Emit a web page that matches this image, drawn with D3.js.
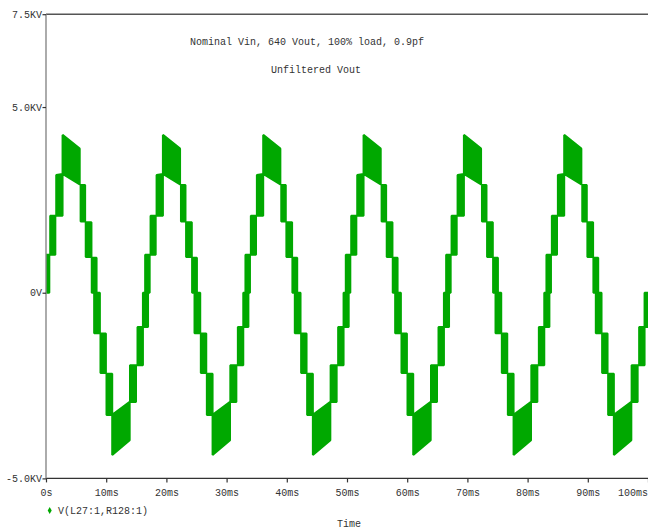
<!DOCTYPE html>
<html><head><meta charset="utf-8">
<script src="https://cdn.jsdelivr.net/npm/d3@7"></script>
<style>
html,body{margin:0;padding:0;background:#fff;}
svg{display:block;}
text{font-family:"Liberation Mono","Courier New",monospace;fill:#333;}
</style></head>
<body>
<script>
// ---- data ----
const titleLines = ["Nominal Vin, 640 Vout, 100% load, 0.9pf", "Unfiltered Vout"];
const seriesName = "V(L27:1,R128:1)";
const xLabel = "Time";
const xTicks = [0, 10, 20, 30, 40, 50, 60, 70, 80, 90, 100];            // ms
const xTickLabels = ["0s","10ms","20ms","30ms","40ms","50ms","60ms","70ms","80ms","90ms","100ms"];
const yTicks = [-5, 0, 5, 7.5];                                          // KV
const yTickLabels = ["-5.0KV","0V","5.0KV","7.5KV"];
// start time (ms) of each 60 Hz cycle visible in the picture
const cycleStarts = [0, 16.67, 33.33, 50.0, 66.67, 83.33];
// envelope of one cycle: time offset (ms), lower and upper voltage (KV)
const cycT  = [-0.2,-0.2,0.55,0.55,0.7,0.7,1.55,1.55,1.7,1.7,2.75,2.75,5.6,5.6,5.75,5.75,6.5,6.5,6.6,6.6,7.55,7.55,7.6,7.6,8.0,8.0,8.4,8.4,8.95,8.95,9.05,9.05,9.95,9.95,10.05,10.05,11.0,11.0,13.9,13.9,13.95,13.95,14.95,14.95,15.2,15.2,16.1,16.1,16.95,16.95];
const cycLo = [0,0,0,1.0,1.02,1.02,1.02,2.07,2.07,2.07,2.07,3.2,2.92,2.92,2.9,1.92,1.92,1.92,1.9,0.96,0.96,0.96,0.94,0,0,-1.09,-1.09,-1.09,-1.09,-1.09,-1.1,-2.16,-2.16,-2.16,-2.18,-3.29,-3.29,-4.37,-3.97,-2.94,-2.94,-2.94,-2.94,-1.95,-1.95,-1.95,-1.95,-0.92,-0.92,0];
const cycHi = [0,1.02,1.02,1.02,1.04,2.07,2.07,2.07,2.1,3.17,3.2,4.25,3.88,2.92,2.9,2.9,2.9,1.92,1.9,1.9,1.9,0.96,0.94,0.94,0.94,0.94,0.94,0,0,-1.09,-1.1,-1.1,-1.1,-2.16,-2.18,-2.18,-2.18,-3.29,-2.94,-2.94,-2.94,-1.95,-1.95,-1.95,-1.95,-0.92,-0.92,0,0,0];

// ---- chart ----
const W = 648, H = 529;
const green = "#00a800";
const svg = d3.select("body").append("svg").attr("width", W).attr("height", H);

const x = d3.scaleLinear().domain([0, 100]).range([46, 648]);
const y = d3.scaleLinear().domain([-5, 7.5]).range([478.4, 14.2]);

svg.append("clipPath").attr("id","plotclip").append("rect")
  .attr("x", x(0)).attr("y", y(7.5) - 1).attr("width", x(100) - x(0)).attr("height", y(-5) - y(7.5) + 2);

// waveform
const area = d3.area().x(d => x(d.t)).y0(d => y(d.lo)).y1(d => y(d.hi));
const g = svg.append("g").attr("clip-path","url(#plotclip)");
cycleStarts.forEach(c => {
  const pts = cycT.map((t, i) => ({t: c + t, lo: cycLo[i], hi: cycHi[i]}));
  g.append("path").attr("d", area(pts))
    .attr("fill", green).attr("stroke", green).attr("stroke-width", 2)
    .attr("stroke-linejoin", "bevel");
});

// frame lines
svg.append("line").attr("x1", x(0)).attr("x2", W).attr("y1", y(7.5)).attr("y2", y(7.5))
  .attr("stroke", "#555").attr("stroke-width", 1.6);
svg.append("line").attr("x1", x(0)).attr("x2", W).attr("y1", y(-5)).attr("y2", y(-5))
  .attr("stroke", "#333").attr("stroke-width", 1.4);
svg.append("line").attr("x1", x(0)).attr("x2", x(0)).attr("y1", y(7.5)).attr("y2", y(-5))
  .attr("stroke", "#888").attr("stroke-width", 1.4);

// axes
const yAxis = d3.axisLeft(y).tickValues(yTicks).tickFormat((d, i) => yTickLabels[i]).tickSize(3.5).tickPadding(0.5);
const ya = svg.append("g").attr("transform", `translate(${x(0)},0)`).call(yAxis);
ya.select(".domain").remove();
ya.selectAll("line").attr("stroke", "#333").attr("stroke-width", 1.2);
ya.selectAll("text").attr("font-size", 10).attr("fill", "#333").attr("font-family", "Liberation Mono, monospace");

const xAxis = d3.axisBottom(x).tickValues(xTicks).tickFormat((d, i) => xTickLabels[i]).tickSize(4).tickPadding(7);
const xa = svg.append("g").attr("transform", `translate(0,${y(-5)})`).call(xAxis);
xa.select(".domain").remove();
xa.selectAll("line").attr("stroke", "#333").attr("stroke-width", 1.2);
xa.selectAll("text").attr("font-size", 10).attr("fill", "#333").attr("font-family", "Liberation Mono, monospace");
xa.selectAll("text").filter((d, i) => i === xTicks.length - 1).attr("text-anchor", "end").attr("x", -0.5);

// titles
svg.append("text").attr("x", 307).attr("y", 45).attr("text-anchor", "middle").attr("font-size", 10).text(titleLines[0]);
svg.append("text").attr("x", 316).attr("y", 73).attr("text-anchor", "middle").attr("font-size", 10).text(titleLines[1]);

// x label
svg.append("text").attr("x", 349).attr("y", 527).attr("text-anchor", "middle").attr("font-size", 10).text(xLabel);

// legend
svg.append("path").attr("d", d3.symbol(d3.symbolDiamond, 14)()).attr("transform", "translate(49.7,510.5)")
  .attr("fill", green);
svg.append("text").attr("x", 58).attr("y", 514).attr("font-size", 10).text(seriesName);
</script>
</body></html>
